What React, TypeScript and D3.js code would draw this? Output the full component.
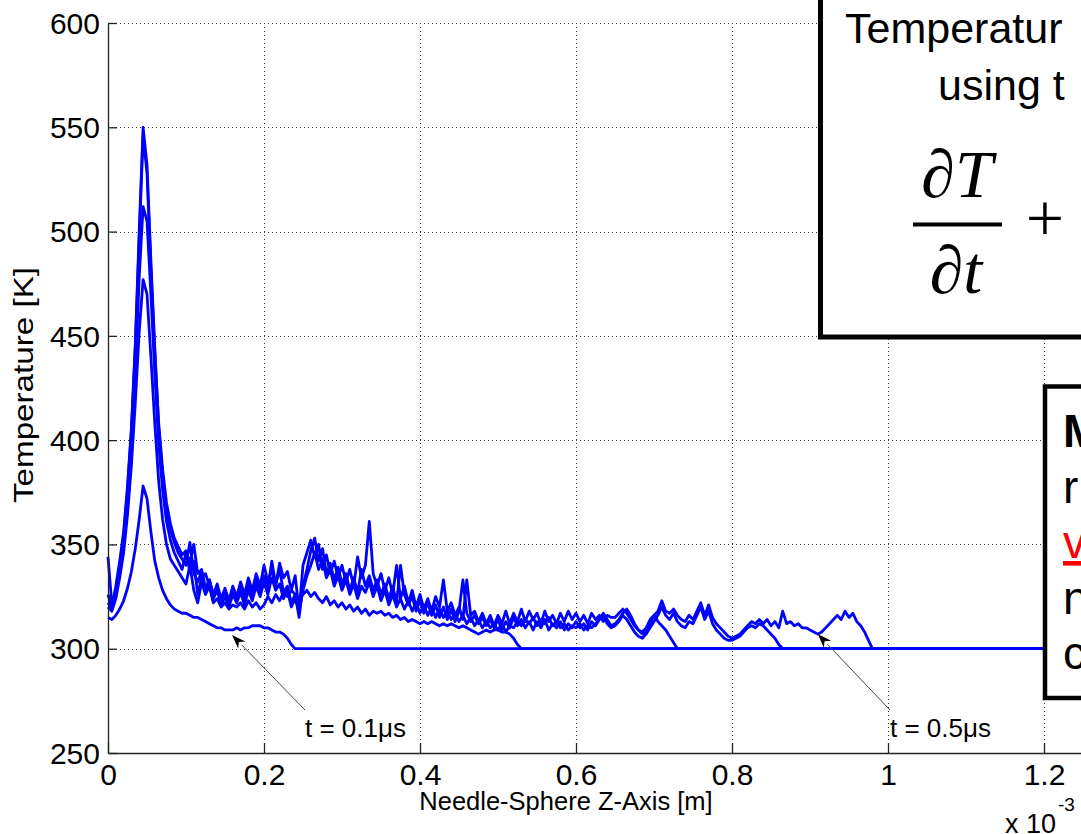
import React, { useEffect, useRef } from 'react';
import * as d3 from 'd3';

// profiles were exported on a regular grid along the axis (x 10^-3 m)
const xStep = 0.005;
const ambientTemp = 300;

// temperature profiles [K], one per time step
const temp01us = [
    315, 314, 316, 319, 323, 329, 337, 348, 362, 378,
    372, 356, 342, 334, 328, 324, 321, 319, 318, 317,
    317, 316, 315, 315, 314, 313, 312, 311, 310, 310,
    309, 309, 309, 310, 309, 310, 310, 311, 311, 311,
    310, 310, 309, 308, 308, 307, 305, 302, 300
];

const temp02us = [
    320, 318, 324, 334, 346, 364, 388, 418, 452, 477,
    470, 440, 408, 380, 362, 350, 343, 340, 337, 334,
    331, 340, 328, 322, 332, 326, 330, 322, 324, 320,
    322, 319, 321, 320, 322, 319, 323, 320, 322, 319,
    321, 325, 322, 326, 323, 327, 325, 328, 326, 324,
    326, 328, 325, 327, 324, 322, 325, 321, 323, 320,
    322, 319, 321, 318, 320, 317, 319, 316, 318, 317,
    318, 316, 317, 315, 316, 314, 315, 313, 314, 313,
    312, 313, 312, 313, 312, 311, 312, 311, 312, 311,
    310, 311, 310, 309, 308, 307, 308, 309, 308, 309,
    309, 308, 308, 307, 305, 302, 300
];

const temp03us = [
    322, 319, 327, 338, 352, 372, 398, 432, 478, 512,
    505, 470, 432, 398, 376, 361, 352, 346, 342, 338,
    346, 337, 342, 326, 334, 336, 330, 324, 328, 321,
    325, 320, 326, 322, 327, 321, 328, 323, 330, 325,
    332, 326, 334, 328, 331, 324, 328, 320, 324, 318,
    328, 335, 340, 346, 338, 343, 334, 338, 330, 335,
    328, 333, 326, 331, 324, 330, 327, 332, 325, 330,
    323, 328, 321, 326, 320, 324, 319, 323, 318, 322,
    317, 321, 316, 320, 315, 319, 315, 318, 314, 317,
    313, 316, 312, 315, 311, 314, 310, 313, 310, 312,
    309, 312, 308, 311, 310, 313, 311, 314, 312, 315,
    311, 314, 312, 315, 311, 313, 310, 312, 309, 311,
    310, 312, 309, 311, 310, 312, 314, 317, 314, 311,
    312, 314, 317, 319, 316, 312, 309, 308, 310, 314,
    316, 313, 311, 309, 306, 303, 300
];

const temp04us = [
    326, 320, 330, 342, 356, 378, 406, 446, 500, 550,
    532, 486, 444, 406, 384, 366, 357, 351, 346, 343,
    340, 351, 336, 332, 337, 328, 333, 325, 329, 322,
    327, 321, 328, 323, 330, 324, 331, 326, 333, 327,
    335, 329, 342, 331, 338, 327, 330, 322, 326, 315,
    330, 338, 347, 353, 342, 348, 336, 341, 333, 339,
    331, 336, 328, 334, 327, 338, 330, 335, 328, 333,
    326, 331, 324, 330, 322, 340, 326, 321, 325, 318,
    323, 317, 322, 316, 321, 315, 320, 314, 319, 313,
    318, 333, 317, 313, 316, 312, 315, 311, 314, 310,
    314, 309, 313, 310, 315, 311, 314, 310, 313, 309,
    313, 310, 314, 309, 312, 310, 313, 309, 312, 310,
    313, 310, 312, 309, 313, 311, 314, 316, 312, 310,
    311, 313, 316, 314, 311, 308, 306, 305, 307, 310,
    313, 316, 320, 316, 314, 317, 313, 311, 310, 313,
    312, 316, 320, 314, 318, 312, 309, 307, 305, 304,
    304, 305, 306, 308, 310, 311, 310, 312, 311, 309,
    307, 305, 302, 300
];

const temp05us = [
    344, 321, 328, 340, 354, 376, 404, 444, 496, 546,
    528, 482, 442, 408, 386, 370, 360, 353, 349, 345,
    347, 341, 350, 336, 338, 329, 333, 326, 331, 324,
    329, 323, 330, 325, 332, 326, 334, 328, 336, 330,
    340, 332, 338, 330, 341, 334, 337, 328, 335, 318,
    340, 346, 352, 344, 350, 338, 345, 336, 342, 334,
    340, 332, 338, 330, 344, 334, 340, 361, 336, 330,
    336, 328, 334, 326, 340, 324, 330, 322, 328, 320,
    326, 319, 324, 318, 325, 320, 333, 318, 322, 316,
    320, 314, 333, 316, 318, 313, 317, 312, 316, 311,
    316, 312, 318, 312, 317, 313, 319, 313, 318, 314,
    317, 312, 318, 313, 316, 312, 317, 313, 318, 314,
    317, 313, 316, 312, 317, 314, 316, 313, 316, 315,
    315, 317, 319, 317, 314, 311, 309, 307, 308, 312,
    316, 318, 323, 318, 317, 319, 316, 314, 313, 316,
    314, 318, 322, 316, 321, 315, 312, 310, 308, 306,
    305, 306, 307, 309, 311, 313, 312, 314, 312, 314,
    311, 313, 310, 318, 312, 313, 311, 312, 310, 310,
    309, 308, 307, 308, 310, 312, 314, 316, 314, 318,
    315, 317, 313, 311, 308, 304, 300
];

const seriesList = [temp05us, temp04us, temp03us, temp02us, temp01us];

const xTicks = [0, 0.2, 0.4, 0.6, 0.8, 1, 1.2];
const yTicks = [250, 300, 350, 400, 450, 500, 550, 600];

const arrowLabels = ['t = 0.1\u03bcs', 't = 0.5\u03bcs'];
const arrowTips = [[0.159, 306.6], [0.91, 307]];
const arrowTails = [[0.2526, 270.6], [1.0026, 270.6]];

const boxLetters = ['M', 'r', 'v', 'n', 'c'];

const W = 1081;
const H = 834;

const App = () => {
    const svgRef = useRef(null);

    useEffect(() => {
        const svg = d3.select(svgRef.current);
        svg.selectAll('*').remove();

        const font = '"Liberation Sans", Arial, Helvetica, sans-serif';
        const serif = '"Liberation Serif", "Times New Roman", "DejaVu Serif", serif';

        const x = d3.scaleLinear().domain([0, 1.4]).range([108, 1200]);
        const y = d3.scaleLinear().domain([250, 600]).range([753, 23]);

        svg.append('rect').attr('width', W).attr('height', H).attr('fill', '#fff');

        // dotted grid
        const grid = svg.append('g')
            .attr('stroke', '#333')
            .attr('stroke-width', 1)
            .attr('stroke-dasharray', '1 3');
        grid.selectAll('.gy')
            .data(yTicks.slice(1))
            .enter().append('line')
            .attr('x1', 108).attr('x2', 1200)
            .attr('y1', d => Math.round(y(d)) + 0.5)
            .attr('y2', d => Math.round(y(d)) + 0.5);
        grid.selectAll('.gx')
            .data(xTicks.slice(1))
            .enter().append('line')
            .attr('x1', d => Math.round(x(d)) + 0.5)
            .attr('x2', d => Math.round(x(d)) + 0.5)
            .attr('y1', 23).attr('y2', 753);

        // temperature profiles, each falls back to ambient and stays there
        const line = d3.line()
            .x(d => x(d[0]))
            .y(d => y(d[1]));

        seriesList.forEach(vals => {
            const pts = vals.map((v, i) => [i * xStep, v]);
            pts.push([1.4, ambientTemp]);
            svg.append('path')
                .datum(pts)
                .attr('fill', 'none')
                .attr('stroke', '#0000ff')
                .attr('stroke-width', 2.8)
                .attr('stroke-linejoin', 'round')
                .attr('d', line);
        });

        // axes
        const yAxis = svg.append('g')
            .attr('transform', 'translate(108,0)')
            .call(d3.axisLeft(y).tickValues(yTicks).tickSize(-9).tickSizeOuter(0).tickPadding(8));
        yAxis.attr('font-size', 30).attr('font-family', font);
        yAxis.selectAll('text').attr('fill', '#000').attr('dy', '0.34em');
        yAxis.selectAll('line, path').attr('stroke', '#222').attr('stroke-width', 1.3);

        const xAxis = svg.append('g')
            .attr('transform', 'translate(0,753)')
            .call(d3.axisBottom(x).tickValues(xTicks).tickSize(-10).tickSizeOuter(0).tickPadding(11).tickFormat(d => String(d)));
        xAxis.attr('font-size', 30).attr('font-family', font);
        xAxis.selectAll('text').attr('fill', '#000');
        xAxis.selectAll('line, path').attr('stroke', '#222').attr('stroke-width', 1.3);

        svg.append('text')
            .attr('transform', 'translate(33,385) rotate(-90)')
            .attr('text-anchor', 'middle')
            .attr('font-family', font)
            .attr('font-size', 28)
            .attr('textLength', 236)
            .attr('lengthAdjust', 'spacingAndGlyphs')
            .text('Temperature [K]');

        svg.append('text')
            .attr('x', 566)
            .attr('y', 810)
            .attr('text-anchor', 'middle')
            .attr('font-family', font)
            .attr('font-size', 25.5)
            .text('Needle-Sphere Z-Axis [m]');

        const expo = svg.append('text')
            .attr('x', 1005)
            .attr('y', 833)
            .attr('font-family', font)
            .attr('font-size', 27);
        expo.append('tspan').text('x 10');
        expo.append('tspan').attr('font-size', 19).attr('dx', 2).attr('dy', -22).text('-3');

        // annotation arrows
        arrowTips.forEach((tip, i) => {
            const x1 = x(arrowTails[i][0]);
            const y1 = y(arrowTails[i][1]);
            const x2 = x(tip[0]);
            const y2 = y(tip[1]);
            const ang = Math.atan2(y2 - y1, x2 - x1);
            const len = 14;
            const hw = 5;
            const bx = x2 - len * Math.cos(ang);
            const by = y2 - len * Math.sin(ang);
            svg.append('line')
                .attr('x1', x1).attr('y1', y1)
                .attr('x2', bx).attr('y2', by)
                .attr('stroke', '#444')
                .attr('stroke-width', 1);
            const head = [
                [x2, y2],
                [bx - hw * Math.sin(ang), by + hw * Math.cos(ang)],
                [x2 - 0.7 * len * Math.cos(ang), y2 - 0.7 * len * Math.sin(ang)],
                [bx + hw * Math.sin(ang), by - hw * Math.cos(ang)]
            ];
            svg.append('path')
                .attr('d', 'M' + head.map(p => p.join(',')).join('L') + 'Z')
                .attr('fill', '#000');
            svg.append('text')
                .attr('x', x1)
                .attr('y', y1 + 27)
                .attr('font-family', font)
                .attr('font-size', 26)
                .text(arrowLabels[i]);
        });

        // slide call-out boxes over the plot
        svg.append('rect')
            .attr('x', 820.5).attr('y', -20)
            .attr('width', 400).attr('height', 357)
            .attr('fill', '#fff')
            .attr('stroke', '#000')
            .attr('stroke-width', 5);
        svg.append('text')
            .attr('x', 845).attr('y', 43)
            .attr('font-family', font).attr('font-size', 43)
            .text('Temperatur');
        svg.append('text')
            .attr('x', 938).attr('y', 100)
            .attr('font-family', font).attr('font-size', 43)
            .text('using t');
        svg.append('text')
            .attr('x', 957).attr('y', 197)
            .attr('text-anchor', 'middle')
            .attr('font-family', serif).attr('font-style', 'italic').attr('font-size', 68)
            .text('\u2202T');
        svg.append('line')
            .attr('x1', 913).attr('x2', 1002)
            .attr('y1', 224.5).attr('y2', 224.5)
            .attr('stroke', '#000').attr('stroke-width', 4);
        svg.append('text')
            .attr('x', 956).attr('y', 293)
            .attr('text-anchor', 'middle')
            .attr('font-family', serif).attr('font-style', 'italic').attr('font-size', 68)
            .text('\u2202t');
        svg.append('text')
            .attr('x', 1045).attr('y', 241)
            .attr('text-anchor', 'middle')
            .attr('font-family', serif).attr('font-size', 68)
            .text('+');

        svg.append('rect')
            .attr('x', 1045).attr('y', 386.5)
            .attr('width', 100).attr('height', 311.5)
            .attr('fill', '#fff')
            .attr('stroke', '#000')
            .attr('stroke-width', 4.5);
        boxLetters.forEach((c, i) => {
            const t = svg.append('text')
                .attr('x', 1063)
                .attr('y', 447 + i * 55.5)
                .attr('font-family', font)
                .attr('font-size', 46)
                .text(c);
            if (i === 0) t.attr('font-weight', 'bold');
            if (i === 2) t.attr('fill', '#ff0000').attr('text-decoration', 'underline');
        });
    }, []);

    return (
        <div style={{ position: 'absolute', left: 0, top: 0, width: W, height: H, overflow: 'hidden', background: '#fff' }}>
            <svg ref={svgRef} width={W} height={H} style={{ display: 'block' }}></svg>
        </div>
    );
};

export default App;
